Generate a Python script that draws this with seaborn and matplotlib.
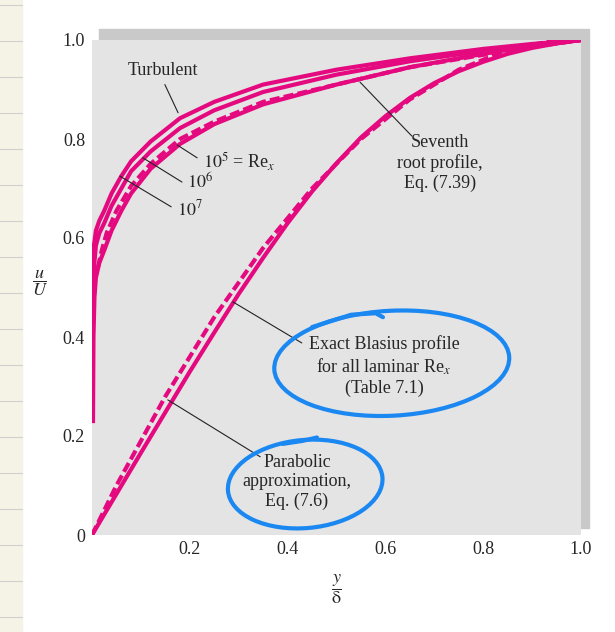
import numpy as np
import pandas as pd
import matplotlib
matplotlib.use("Agg")
import matplotlib.pyplot as plt
import seaborn as sns
from matplotlib.patches import Rectangle, Ellipse
from matplotlib.lines import Line2D

# laminar profiles, u/U against y/delta
lam_y = [0, 0.05, 0.10, 0.15, 0.20, 0.25, 0.30, 0.35, 0.40, 0.45, 0.50,
         0.55, 0.60, 0.65, 0.70, 0.75, 0.80, 0.85, 0.90, 0.95, 1.0]
blasius_u = [0, 0.083, 0.166, 0.248, 0.330, 0.409, 0.487, 0.560, 0.630, 0.694, 0.751,
             0.803, 0.846, 0.883, 0.913, 0.937, 0.956, 0.972, 0.984, 0.993, 1.0]
parabolic_u = [0, 0.10, 0.19, 0.28, 0.36, 0.44, 0.51, 0.58, 0.64, 0.70, 0.75,
               0.80, 0.84, 0.88, 0.91, 0.94, 0.96, 0.98, 0.99, 1.0, 1.0]

# turbulent profiles
turb_y = [0.001, 0.002, 0.004, 0.008, 0.015, 0.025, 0.04, 0.06, 0.08,
          0.12, 0.18, 0.25, 0.35, 0.5, 0.65, 0.8, 0.9, 1.0]
re7_u = [0.40, 0.53, 0.585, 0.615, 0.635, 0.655, 0.69, 0.725, 0.755,
         0.795, 0.842, 0.875, 0.91, 0.94, 0.963, 0.982, 0.992, 1.0]
re6_u = [0.30, 0.45, 0.54, 0.585, 0.61, 0.63, 0.665, 0.70, 0.735,
         0.775, 0.822, 0.858, 0.895, 0.93, 0.957, 0.978, 0.99, 1.0]
re5_y = [0.002, 0.003, 0.005, 0.008, 0.015, 0.025, 0.04, 0.06, 0.08,
         0.12, 0.18, 0.25, 0.35, 0.5, 0.65, 0.8, 0.9, 1.0]
re5_u = [0.226, 0.40, 0.48, 0.52, 0.55, 0.575, 0.615, 0.655, 0.69,
         0.74, 0.79, 0.83, 0.87, 0.91, 0.945, 0.972, 0.988, 1.0]
seventh_y = [0.012, 0.02, 0.03, 0.05, 0.08, 0.12, 0.18, 0.25, 0.35, 0.5, 0.65, 0.8, 0.9, 1.0]
seventh_u = [0.54, 0.575, 0.61, 0.655, 0.705, 0.75, 0.80, 0.835, 0.875, 0.91, 0.945, 0.97, 0.986, 1.0]

x_ticks = [0.2, 0.4, 0.6, 0.8, 1.0]
x_labels = ["0.2", "0.4", "0.6", "0.8", "1.0"]
y_ticks = [0, 0.2, 0.4, 0.6, 0.8, 1.0]
y_labels = ["0", "0.2", "0.4", "0.6", "0.8", "1.0"]

PINK = "#e4097f"
BLUE = "#1b88f2"

sns.set_style("white")
plt.rcParams["font.family"] = ["Liberation Serif", "DejaVu Serif"]
plt.rcParams["mathtext.fontset"] = "stix"

fig = plt.figure(figsize=(6.15, 6.32), dpi=100)
ax = fig.add_axes([92 / 615, 97 / 632, 489 / 615, 495 / 632])
ax.set_facecolor("#e4e4e4")
for s in ax.spines.values():
    s.set_visible(False)

# page margin of the notebook and the drop shadow behind the panel
fig.add_artist(Rectangle((0, 0), 22 / 615, 1, transform=fig.transFigure,
                         color="#f5f3e6", zorder=-3))
for yy in range(5, 632, 36):
    fig.add_artist(Line2D([0, 22 / 615], [1 - yy / 632] * 2, transform=fig.transFigure,
                          color="#cfcfcf", lw=0.8, zorder=-2))
fig.add_artist(Rectangle((0.0143, 0.0141), 1.002, 1.008, transform=ax.transAxes,
                         color="#c9c9c9", zorder=-1))

lam = pd.DataFrame({"y": lam_y, "blasius": blasius_u, "parab": parabolic_u})
dash = (0, (2.4, 1.0))

sns.lineplot(data=lam, x="y", y="blasius", ax=ax, color=PINK, lw=3,
             solid_capstyle="butt")
sns.lineplot(data=lam, x="y", y="parab", ax=ax, color=PINK, lw=3, linestyle=dash)

sns.lineplot(x=turb_y, y=re7_u, ax=ax, color=PINK, lw=3, solid_capstyle="butt")
sns.lineplot(x=turb_y, y=re6_u, ax=ax, color=PINK, lw=3, solid_capstyle="butt")
sns.lineplot(x=re5_y, y=re5_u, ax=ax, color=PINK, lw=3, solid_capstyle="butt")
sns.lineplot(x=seventh_y, y=seventh_u, ax=ax, color=PINK, lw=3, linestyle=dash)

ax.set_xlim(0, 1)
ax.set_ylim(0, 1)
ax.set_xticks(x_ticks)
ax.set_xticklabels(x_labels)
ax.set_yticks(y_ticks)
ax.set_yticklabels(y_labels)
ax.tick_params(axis="x", direction="in", length=9.5, width=0.8, color="#333333",
               labelsize=13, pad=4)
ax.tick_params(axis="y", direction="in", length=9.5, width=0.8, color="#333333",
               labelsize=13, pad=5)
ax.xaxis.get_major_ticks()[-1].tick1line.set_visible(False)
ax.yaxis.get_major_ticks()[0].tick1line.set_visible(False)
ax.yaxis.get_major_ticks()[-1].tick1line.set_visible(False)

ax.set_xlabel(r"$\dfrac{y}{\mathrm{\delta}}$", fontsize=13)
ax.xaxis.set_label_coords(0.5, -0.075)
ax.set_ylabel(r"$\dfrac{u}{U}$", fontsize=13, rotation=0, ha="center", va="center")
ax.yaxis.set_label_coords(-0.106, 0.509)

# labels with leader lines
lead = dict(arrowstyle="-", lw=0.8, color="#222222", shrinkA=0, shrinkB=0)
ax.text(0.145, 0.939, "Turbulent", fontsize=13, ha="center", va="center")
ax.annotate("", xy=(0.176, 0.853), xytext=(0.149, 0.91), arrowprops=lead)

ax.text(0.227, 0.754, r"$10^5$ = Re$_x$", fontsize=13, ha="left", va="center")
ax.annotate("", xy=(0.174, 0.788), xytext=(0.215, 0.762), arrowprops=lead)
ax.text(0.194, 0.711, r"$10^6$", fontsize=13, ha="left", va="center")
ax.annotate("", xy=(0.104, 0.762), xytext=(0.184, 0.713), arrowprops=lead)
ax.text(0.174, 0.657, r"$10^7$", fontsize=13, ha="left", va="center")
ax.annotate("", xy=(0.057, 0.725), xytext=(0.162, 0.663), arrowprops=lead)

ax.text(0.712, 0.752, "Seventh\nroot profile,\nEq. (7.39)", fontsize=13,
        ha="center", va="center", multialignment="center")
ax.annotate("", xy=(0.548, 0.915), xytext=(0.654, 0.806), arrowprops=lead)

ax.text(0.597, 0.341, "Exact Blasius profile\nfor all laminar Re$_x$\n(Table 7.1)",
        fontsize=13, ha="center", va="center", multialignment="center")
ax.annotate("", xy=(0.288, 0.471), xytext=(0.429, 0.388), arrowprops=lead)

ax.text(0.419, 0.107, "Parabolic\napproximation,\nEq. (7.6)", fontsize=13,
        ha="center", va="center", multialignment="center")
ax.annotate("", xy=(0.155, 0.273), xytext=(0.344, 0.158), arrowprops=lead)

# hand drawn blue rings
ax.add_patch(Ellipse((0.613, 0.347), 0.481, 0.212, angle=3, fill=False,
                     ec=BLUE, lw=3, zorder=5))
ax.plot([0.45, 0.53, 0.58, 0.595], [0.42, 0.445, 0.448, 0.44], color=BLUE, lw=3,
        solid_capstyle="round", zorder=5)
ax.add_patch(Ellipse((0.436, 0.103), 0.317, 0.178, angle=5, fill=False,
                     ec=BLUE, lw=3, zorder=5))
ax.plot([0.39, 0.43, 0.46], [0.184, 0.19, 0.197], color=BLUE, lw=3,
        solid_capstyle="round", zorder=5)

ax.set_xlim(0, 1)
ax.set_ylim(0, 1)
fig.savefig("out.png", dpi=100)
